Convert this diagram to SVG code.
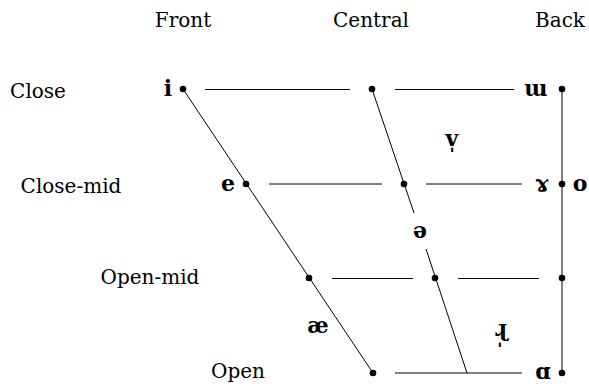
<svg xmlns="http://www.w3.org/2000/svg" width="589" height="384" viewBox="0 0 589 384">
<style>
.lab{font-family:"DejaVu Serif","Liberation Serif",serif;font-size:20px;fill:#000}
.sym{font-family:"DejaVu Serif","Liberation Serif",serif;font-size:22px;font-weight:bold;fill:#000}
.ln{stroke:#000;stroke-width:1;fill:none}
.dot{fill:#000}
</style>
<rect width="589" height="384" fill="#fff"/>
<g id="headers">
<text class="lab" x="183" y="27" text-anchor="middle">Front</text>
<text class="lab" x="371" y="27" text-anchor="middle">Central</text>
<text class="lab" x="560" y="27" text-anchor="middle">Back</text>
<text class="lab" x="38" y="98" text-anchor="middle">Close</text>
<text class="lab" x="71" y="193" text-anchor="middle">Close-mid</text>
<text class="lab" x="150" y="284" text-anchor="middle">Open-mid</text>
<text class="lab" x="238" y="378" text-anchor="middle">Open</text>
</g>
<g id="connectors">
<line class="ln" x1="183" y1="89" x2="373" y2="373"/>
<line class="ln" x1="372" y1="89" x2="414" y2="213"/>
<line class="ln" x1="426" y1="249" x2="467" y2="373"/>
<line class="ln" x1="562" y1="89" x2="562" y2="373"/>
<line class="ln" x1="205" y1="89.5" x2="350" y2="89.5"/>
<line class="ln" x1="395" y1="89.5" x2="514" y2="89.5"/>
<line class="ln" x1="269" y1="184" x2="382" y2="184"/>
<line class="ln" x1="426" y1="184" x2="522" y2="184"/>
<line class="ln" x1="332" y1="278.5" x2="413" y2="278.5"/>
<line class="ln" x1="458" y1="278.5" x2="539" y2="278.5"/>
<line class="ln" x1="395" y1="373" x2="522" y2="373"/>
</g>
<g id="node-i"><circle class="dot" cx="183" cy="89" r="3.3"/><text class="sym" x="168" y="96" text-anchor="middle">i</text></g>
<g id="node-close-central"><circle class="dot" cx="372" cy="89" r="3.3"/></g>
<g id="node-u"><circle class="dot" cx="562" cy="89" r="3.3"/><text class="sym" x="536" y="96" text-anchor="middle">ɯ</text></g>
<g id="node-v"><text class="sym" x="452" y="146" text-anchor="middle">v̩</text></g>
<g id="node-e"><circle class="dot" cx="246" cy="184" r="3.3"/><text class="sym" x="228" y="191" text-anchor="middle">e</text></g>
<g id="node-closemid-central"><circle class="dot" cx="404" cy="184" r="3.3"/></g>
<g id="node-gamma-o"><circle class="dot" cx="562" cy="184" r="3.3"/><text class="sym" x="542" y="191" text-anchor="middle">ɤ</text><text class="sym" x="580" y="191" text-anchor="middle">o</text></g>
<g id="node-schwa"><text class="sym" x="420" y="238" text-anchor="middle">ə</text></g>
<g id="node-openmid-front"><circle class="dot" cx="309" cy="278" r="3.3"/></g>
<g id="node-openmid-central"><circle class="dot" cx="435" cy="278" r="3.3"/></g>
<g id="node-openmid-back"><circle class="dot" cx="562" cy="278" r="3.3"/></g>
<g id="node-ae"><text class="sym" x="318" y="333" text-anchor="middle">æ</text></g>
<g id="node-r"><text class="sym" x="501" y="336" text-anchor="middle">ɻ̩</text></g>
<g id="node-open-front"><circle class="dot" cx="373" cy="373" r="3.3"/></g>
<g id="node-a"><circle class="dot" cx="562" cy="373" r="3.3"/><text class="sym" x="543" y="379" text-anchor="middle">ɑ</text></g>
</svg>
